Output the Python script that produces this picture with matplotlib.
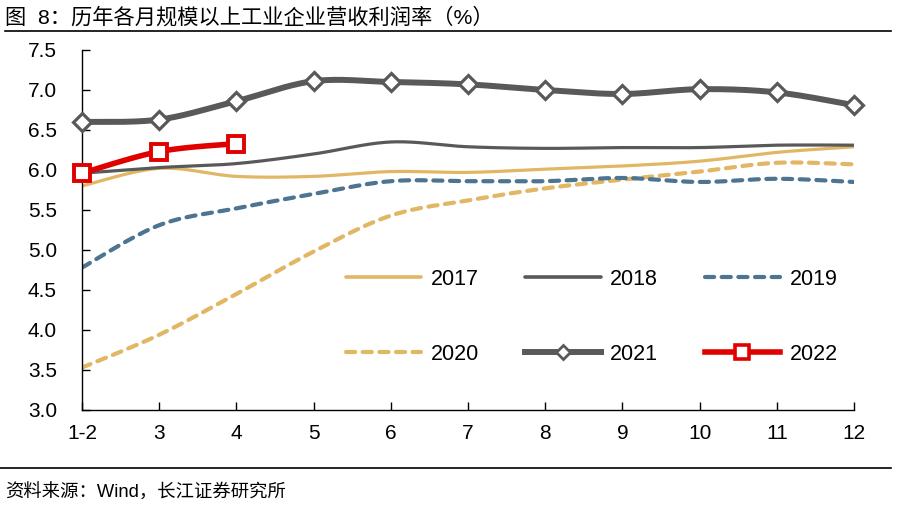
import numpy as np
import matplotlib
matplotlib.use("Agg")
import matplotlib.pyplot as plt
from matplotlib.lines import Line2D

plt.rcParams['font.family'] = ['Liberation Sans', 'Noto Sans CJK SC', 'DejaVu Sans']

# data
months = ['1-2', '3', '4', '5', '6', '7', '8', '9', '10', '11', '12']
y2017 = [5.80, 6.02, 5.92, 5.92, 5.98, 5.97, 6.01, 6.05, 6.11, 6.22, 6.29]
y2018 = [5.96, 6.03, 6.08, 6.20, 6.35, 6.29, 6.27, 6.28, 6.28, 6.31, 6.31]
y2019 = [4.78, 5.31, 5.52, 5.70, 5.86, 5.86, 5.86, 5.90, 5.85, 5.89, 5.85]
y2020 = [3.53, 3.94, 4.45, 4.98, 5.43, 5.62, 5.77, 5.88, 5.98, 6.09, 6.07]
y2021 = [6.60, 6.63, 6.86, 7.11, 7.10, 7.07, 7.00, 6.95, 7.01, 6.97, 6.81]
y2022 = [5.96, 6.23, 6.33]

gold = '#E1B765'
gray = '#595959'
blue = '#4D7490'
red = '#E00000'


def smooth(y, n=30):
    # cardinal (Catmull-Rom) spline through the points, like Excel's smoothed line
    y = np.asarray(y, dtype=float)
    x = np.arange(len(y), dtype=float)
    if len(y) < 3:
        return x, y
    px = np.concatenate([[x[0]], x, [x[-1]]])
    py = np.concatenate([[y[0]], y, [y[-1]]])
    xs, ys = [], []
    t = np.linspace(0, 1, n)
    for i in range(1, len(px) - 2):
        p0, p1, p2, p3 = py[i - 1], py[i], py[i + 1], py[i + 2]
        q0, q1, q2, q3 = px[i - 1], px[i], px[i + 1], px[i + 2]
        b1 = p1 + (p2 - p0) / 6
        b2 = p2 - (p3 - p1) / 6
        c1 = q1 + (q2 - q0) / 6
        c2 = q2 - (q3 - q1) / 6
        ys.append((1 - t) ** 3 * p1 + 3 * (1 - t) ** 2 * t * b1 + 3 * (1 - t) * t ** 2 * b2 + t ** 3 * p2)
        xs.append((1 - t) ** 3 * q1 + 3 * (1 - t) ** 2 * t * c1 + 3 * (1 - t) * t ** 2 * c2 + t ** 3 * q2)
    return np.concatenate(xs), np.concatenate(ys)


fig = plt.figure(figsize=(9.05, 5.11), dpi=100)
ax = fig.add_axes([0.0906, 0.1977, 0.8530, 0.7045])

x, y = smooth(y2020)
ax.plot(x, y, color=gold, lw=3, dashes=(2.2, 1.8), dash_capstyle='round')
x, y = smooth(y2019)
ax.plot(x, y, color=blue, lw=3, dashes=(2.2, 1.8), dash_capstyle='round')
x, y = smooth(y2017)
ax.plot(x, y, color=gold, lw=2.3, solid_capstyle='round')
x, y = smooth(y2018)
ax.plot(x, y, color=gray, lw=2.3, solid_capstyle='round')
x, y = smooth(y2021)
ax.plot(x, y, color=gray, lw=4.3, solid_capstyle='round')
ax.plot(np.arange(len(y2021)), y2021, ls='none', marker='D', ms=9, mfc='white',
        mec=gray, mew=2.3, clip_on=False, zorder=5)
x, y = smooth(y2022)
ax.plot(x, y, color=red, lw=4, solid_capstyle='round')
ax.plot(np.arange(len(y2022)), y2022, ls='none', marker='s', ms=12, mfc='white',
        mec=red, mew=2.8, clip_on=False, zorder=5)

ax.set_xlim(0, len(months) - 1)
ax.set_ylim(3.0, 7.5)
ax.set_xticks(np.arange(len(months)))
ax.set_xticklabels(months)
ax.set_yticks(np.arange(3.0, 7.51, 0.5))
ax.set_yticklabels(['%.1f' % v for v in np.arange(3.0, 7.51, 0.5)])
ax.tick_params(axis='both', direction='in', length=6, width=1, labelsize=15)
ax.tick_params(axis='x', pad=10)
ax.tick_params(axis='y', pad=18)
ax.spines['top'].set_visible(False)
ax.spines['right'].set_visible(False)
ax.spines['left'].set_linewidth(1)
ax.spines['bottom'].set_linewidth(1)

handles = [
    Line2D([], [], color=gold, lw=2.6, solid_capstyle='round'),
    Line2D([], [], color=gold, lw=3, dashes=(2.2, 1.8), dash_capstyle='round'),
    Line2D([], [], color=gray, lw=2.6, solid_capstyle='round'),
    Line2D([], [], color=gray, lw=4.3, marker='D', ms=7, mfc='white', mec=gray, mew=2),
    Line2D([], [], color=blue, lw=3, dashes=(2.2, 1.8), dash_capstyle='round'),
    Line2D([], [], color=red, lw=4, marker='s', ms=10, mfc='white', mec=red, mew=2.6),
]
labels = ['2017', '2020', '2018', '2021', '2019', '2022']
fig.legend(handles, labels, ncol=3, loc='upper left', bbox_to_anchor=(0.382, 0.474),
           frameon=False, fontsize=15.5, handlelength=3.5, handletextpad=0.45,
           columnspacing=2.15, labelspacing=2.5, borderpad=0, borderaxespad=0)

fig.text(0.006, 0.966, '图  8：历年各月规模以上工业企业营收利润率（%）', fontsize=15.3,
         va='center', ha='left')
fig.add_artist(Line2D([0.005, 0.984], [0.940, 0.940], color='black', lw=1.2))
fig.add_artist(Line2D([0.0, 0.984], [0.084, 0.084], color='black', lw=1.2))
fig.text(0.006, 0.035, '资料来源：Wind，长江证券研究所', fontsize=13.2, va='center', ha='left')

fig.savefig('out.png', dpi=100)
